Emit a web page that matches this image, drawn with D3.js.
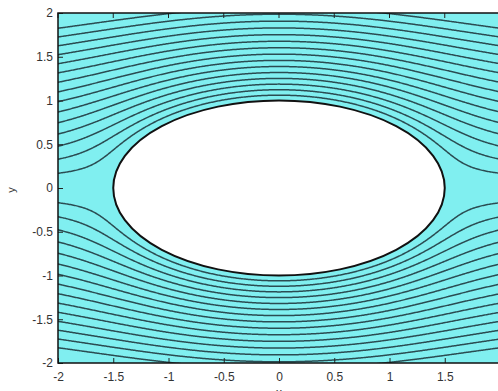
<!DOCTYPE html>
<html>
<head>
<meta charset="utf-8">
<script src="https://cdn.jsdelivr.net/npm/d3@7"></script>
<style>
  body { margin: 0; background: #fff; }
  svg { display: block; }
  text { font-family: "Liberation Sans", Arial, sans-serif; fill: #333; }
</style>
</head>
<body>
<div id="chart"></div>
<script>
// body: ellipse semi-axes (x, y)
const semiAxes = [1.5, 1.0];
// free stream speed
const uFlow = [1.0];
// stream function levels of the drawn streamlines (both sides of the body)
const levels = [0.1, 0.2, 0.3, 0.4, 0.5, 0.6, 0.7, 0.8, 0.9, 1.0, 1.1, 1.2, 1.3, 1.4, 1.5];
const xTicks = [-2, -1.5, -1, -0.5, 0, 0.5, 1, 1.5];
const yTicks = [-2, -1.5, -1, -0.5, 0, 0.5, 1, 1.5, 2];

const w = 498;
const h = 391;
const pLeft = 58, pRight = 500, pTop = 13, pBottom = 363;

const xScale = d3.scaleLinear([-2, 2], [pLeft, pRight]);
const yScale = d3.scaleLinear([-2, 2], [pBottom, pTop]);

// potential flow round an ellipse, elliptic coordinates z = c cosh(xi + i eta)
const a = semiAxes[0], b = semiAxes[1];
const c = Math.sqrt(a * a - b * b);
const xi0 = Math.atanh(b / a);
function psi(x, y) {
    if ((x * x) / (a * a) + (y * y) / (b * b) <= 1) return 0;
    const X = x / c, Y = y / c;
    const r1 = Math.hypot(X + 1, Y), r2 = Math.hypot(X - 1, Y);
    const ch = (r1 + r2) / 2;
    const cs = Math.max(-1, Math.min(1, (r1 - r2) / 2));
    const xi = Math.acosh(Math.max(1, ch));
    const sn = Math.sign(y) * Math.sqrt(1 - cs * cs);
    return uFlow[0] * (a + b) * Math.sinh(xi - xi0) * sn;
}

// grid a little larger than the axes, clipped later
const n = 460;
const g0 = -2.15, g1 = 2.15;
const step = (g1 - g0) / (n - 1);
const grid = new Array(n * n);
for (let j = 0; j < n; j++) {
    const y = g1 - j * step;
    for (let i = 0; i < n; i++) {
        grid[j * n + i] = psi(g0 + i * step, y);
    }
}

const thresholds = levels.map(v => -v).reverse().concat(levels);
const contours = d3.contours().size([n, n]).thresholds(thresholds)(grid);

const gx = d3.scaleLinear([0, n - 1], [xScale(g0), xScale(g1)]);
const gy = d3.scaleLinear([0, n - 1], [yScale(g1), yScale(g0)]);
const path = d3.geoPath(d3.geoTransform({
    point: function (px, py) { this.stream.point(gx(px - 0.5), gy(py - 0.5)); }
}));

const svg = d3.select('#chart')
    .append('svg')
    .attr('width', w)
    .attr('height', h);

svg.append('clipPath').attr('id', 'plot')
    .append('rect')
    .attr('x', pLeft).attr('y', pTop)
    .attr('width', pRight - pLeft).attr('height', pBottom - pTop);

svg.append('rect')
    .attr('x', pLeft).attr('y', pTop)
    .attr('width', pRight - pLeft).attr('height', pBottom - pTop)
    .attr('fill', '#80eff0');

svg.append('g')
    .attr('clip-path', 'url(#plot)')
    .selectAll('path')
    .data(contours)
    .join('path')
    .attr('d', path)
    .attr('fill', 'none')
    .attr('stroke', '#2a4c52')
    .attr('stroke-width', 1.5);

// the body
svg.append('ellipse')
    .attr('cx', xScale(0)).attr('cy', yScale(0))
    .attr('rx', xScale(a) - xScale(0))
    .attr('ry', yScale(0) - yScale(b))
    .attr('fill', '#fff')
    .attr('stroke', '#111')
    .attr('stroke-width', 2);

// axes, matlab style: inward ticks
const xAxis = d3.axisBottom(xScale).tickValues(xTicks).tickSize(-5).tickPadding(9).tickFormat(d3.format('g'));
const yAxis = d3.axisLeft(yScale).tickValues(yTicks).tickSize(-5).tickPadding(5).tickFormat(d3.format('g'));

svg.append('g')
    .attr('transform', 'translate(0,' + pBottom + ')')
    .call(xAxis)
    .call(g => g.select('.domain').remove())
    .call(g => g.selectAll('.tick line').attr('stroke', '#222'))
    .call(g => g.selectAll('text').attr('font-size', 12).attr('fill', '#444')
        .text(d => String(d)));

svg.append('g')
    .attr('transform', 'translate(' + pLeft + ',0)')
    .call(yAxis)
    .call(g => g.select('.domain').remove())
    .call(g => g.selectAll('.tick line').attr('stroke', '#222'))
    .call(g => g.selectAll('text').attr('font-size', 12).attr('fill', '#444')
        .text(d => String(d)));

// top ticks
svg.append('g').selectAll('line')
    .data(xTicks).join('line')
    .attr('x1', d => xScale(d)).attr('x2', d => xScale(d))
    .attr('y1', pTop).attr('y2', pTop + 5)
    .attr('stroke', '#222');

svg.append('path')
    .attr('d', `M${pRight},${pTop}H${pLeft}V${pBottom}H${pRight}`)
    .attr('fill', 'none')
    .attr('stroke', '#111')
    .attr('stroke-width', 1.5);

svg.append('text')
    .text('y')
    .attr('transform', 'translate(15,190) rotate(-90)')
    .attr('text-anchor', 'middle')
    .attr('font-size', 11)
    .attr('fill', '#555');

svg.append('text')
    .text('x')
    .attr('x', xScale(0))
    .attr('y', 397)
    .attr('text-anchor', 'middle')
    .attr('font-size', 12)
    .attr('fill', '#555');
</script>
</body>
</html>
